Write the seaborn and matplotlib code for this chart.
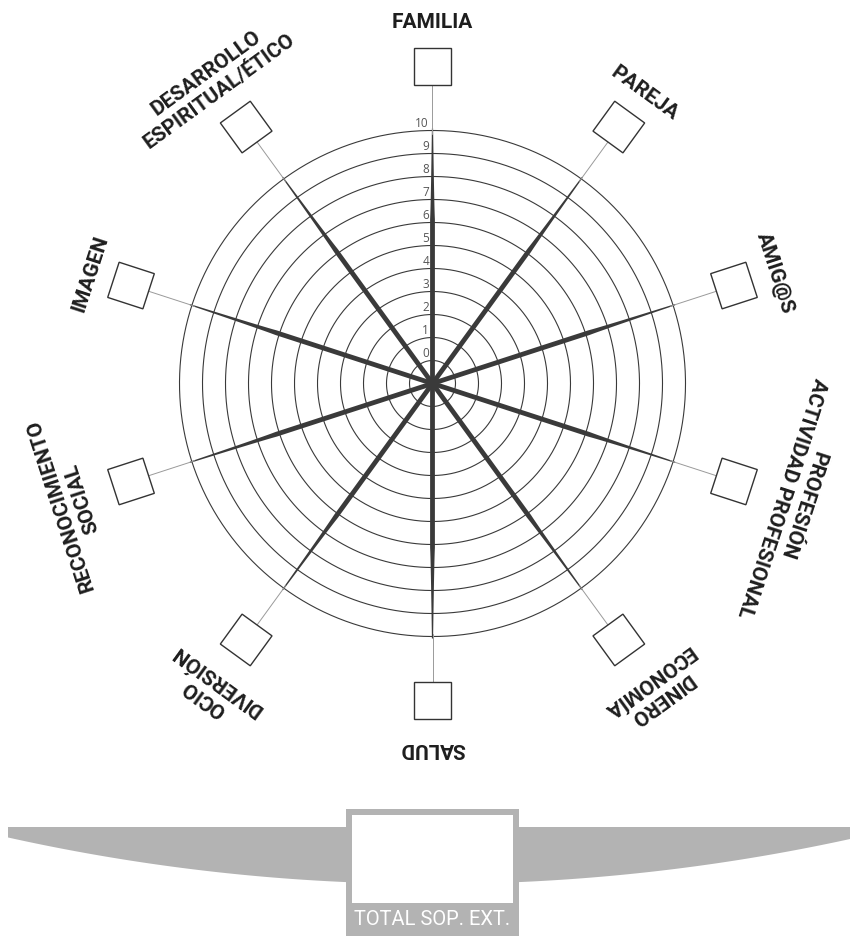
import numpy as np
import pandas as pd
import matplotlib.pyplot as plt
from matplotlib.patches import Polygon, Rectangle
import seaborn as sns

# ---- datos de la rueda ----
categories = [
    "FAMILIA",
    "PAREJA",
    "AMIG@S",
    "PROFESIÓN\nACTIVIDAD PROFESIONAL",
    "DINERO\nECONOMÍA",
    "SALUD",
    "OCIO\nDIVERSIÓN",
    "RECONOCIMIENTO\nSOCIAL",
    "IMAGEN",
    "DESARROLLO\nESPIRITUAL/ÉTICO",
]
scale_levels = list(range(0, 11))
total_label = "TOTAL SOP. EXT."

# ---- layout (pixeles) ----
W, H = 850, 937
cx, cy = 432.5, 384.5
ring_step = 23            # radio del anillo k = ring_step * (k + 1)
box_r = 317               # radio del centro de los cuadrados
box_side = 37
label_r = [362, 360, 360, 378, 378, 364, 377, 380, 360, 374]

sns.set_theme(style="white")
plt.rcParams["font.family"] = ["Roboto", "DejaVu Sans"]

fig = plt.figure(figsize=(W / 100, H / 100), dpi=100)
ax = fig.add_axes([0, 0, 1, 1])

dark = "#3a3a3a"

# anillos concentricos con seaborn
t = np.linspace(0, 2 * np.pi, 400)
rows = []
for lvl in scale_levels:
    r = ring_step * (lvl + 1)
    rows.append(pd.DataFrame({"x": cx + r * np.cos(t), "y": cy + r * np.sin(t), "level": lvl}))
rings = pd.concat(rows, ignore_index=True)
sns.lineplot(data=rings, x="x", y="y", units="level", estimator=None, sort=False,
             color=dark, linewidth=0.8, ax=ax, legend=False)
ax.set_xlim(0, W)
ax.set_ylim(H, 0)
ax.axis("off")

# numeros de la escala
for lvl in scale_levels:
    r = ring_step * (lvl + 1)
    ax.text(cx - 3.5, cy - r - 1.5, str(lvl), ha="right", va="bottom",
            fontsize=8.5, color="#555555", family=["Open Sans", "DejaVu Sans"])

# radios: cuña oscura que se afina y linea gris fina hasta el cuadrado
n = len(categories)
angles = np.deg2rad(np.arange(n) * 360 / n)
r_end = box_r - box_side / 2
rs = np.linspace(0, 255, 60)
half_w = np.where(rs < 165, 2.4, 2.4 - 1.8 * ((rs - 165) / 90) ** 0.7)
for th in angles:
    u = np.array([np.sin(th), -np.cos(th)])
    tv = np.array([np.cos(th), np.sin(th)])
    left = [np.array([cx, cy]) + r * u + w * tv for r, w in zip(rs, half_w)]
    right = [np.array([cx, cy]) + r * u - w * tv for r, w in zip(rs, half_w)]
    ax.add_patch(Polygon(left + right[::-1], closed=True, facecolor=dark,
                         edgecolor="none", zorder=3))
    ax.plot([cx + 250 * u[0], cx + r_end * u[0]], [cy + 250 * u[1], cy + r_end * u[1]],
            color="#9a9a9a", linewidth=0.7, zorder=3)

# cuadrados y etiquetas
for i, (th, lab) in enumerate(zip(angles, categories)):
    u = np.array([np.sin(th), -np.cos(th)])
    tv = np.array([np.cos(th), np.sin(th)])
    c = np.array([cx, cy]) + box_r * u
    h = box_side / 2
    corners = [c + h * u + h * tv, c + h * u - h * tv, c - h * u - h * tv, c - h * u + h * tv]
    ax.add_patch(Polygon(corners, closed=True, facecolor="white", edgecolor="#333333",
                         linewidth=1.0, zorder=4))
    p = np.array([cx, cy]) + label_r[i] * u
    ax.text(p[0], p[1], lab, ha="center", va="center", multialignment="center",
            rotation=-np.rad2deg(th), rotation_mode="anchor", fontsize=15,
            fontweight="bold", color="#1e1e1e", linespacing=1.25, zorder=5)

# banda inferior
gray = "#b3b3b3"
xs = np.linspace(8, W, 300)
R = 1960
y0 = 885
yb = (y0 - R) + np.sqrt(R ** 2 - (xs - cx) ** 2)
band = np.vstack([np.column_stack([xs, np.full_like(xs, 828)]),
                  np.column_stack([xs[::-1], yb[::-1]])])
ax.add_patch(Polygon(band, closed=True, facecolor=gray, edgecolor="none", zorder=2))
ax.add_patch(Rectangle((346, 810), 173, H - 810, facecolor=gray, edgecolor="none", zorder=3))
ax.add_patch(Rectangle((352, 816), 161, 88, facecolor="white", edgecolor="none", zorder=4))
ax.text(432.5, 920, total_label, ha="center", va="center", fontsize=14.5,
        color="white", zorder=5)

fig.savefig("out.png", dpi=100)
